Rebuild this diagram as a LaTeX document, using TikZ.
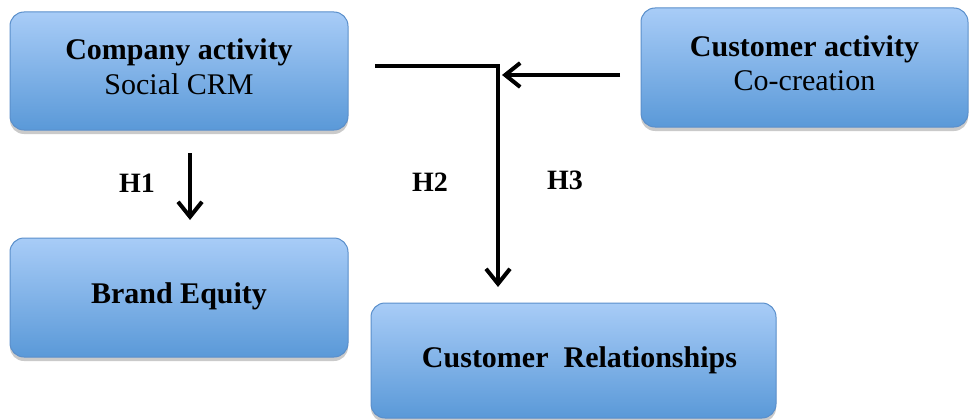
\documentclass[tikz,border=0pt]{standalone}
\usepackage{fontspec}
\setmainfont{Liberation Serif}
\usetikzlibrary{arrows.meta,shadows}
\begin{document}
\begin{tikzpicture}[x=1pt,y=-1pt,
  box/.style={draw=blueborder,line width=1pt,rounded corners=14pt,top color=bluetop,bottom color=bluebot,
    drop shadow={shadow xshift=0pt,shadow yshift=-4pt,opacity=0.35,fill=black!60},
    inner sep=0pt,align=center,font=\fontsize{30}{35}\selectfont},
  conn/.style={line width=4pt,-{Straight Barb[length=15pt,width=24pt,line width=4pt]}},
  lbl/.style={font=\fontsize{28}{30}\selectfont\bfseries}]
\definecolor{bluetop}{HTML}{A8CCF7}
\definecolor{bluebot}{HTML}{5A99D8}
\definecolor{blueborder}{HTML}{5A8FCB}
\useasboundingbox (0,0) rectangle (969,420);
\node[box,minimum width=338pt,minimum height=118pt] (comp) at (179,71) {\raisebox{9pt}{\shortstack{\textbf{Company activity}\\[4pt]Social CRM}}};
\node[box,minimum width=327pt,minimum height=119pt] (cust) at (804.5,67.5) {\raisebox{9pt}{\shortstack{\textbf{Customer activity}\\[4pt]Co-creation}}};
\node[box,minimum width=338pt,minimum height=119pt] (brand) at (179,297.5) {\raisebox{9pt}{\textbf{Brand Equity}}};
\node[box,minimum width=405pt,minimum height=115pt] (rel) at (573.5,360.5) {\hspace*{12pt}\raisebox{2pt}{\textbf{Customer\ \ Relationships}}};
\coordinate (h1s) at (190,153);
\coordinate (h1e) at (190,220);
\coordinate (h2s) at (375,66);
\coordinate (h2c) at (498,66);
\coordinate (h2e) at (498,287);
\coordinate (h3s) at (620,75);
\coordinate (h3e) at (502,75);
\draw[conn] (h1s) -- (h1e);
\draw[conn] (h2s) -- (h2c) -- (h2e);
\draw[conn] (h3s) -- (h3e);
\node[lbl] (l1) at (137,183) {H1};
\node[lbl] (l2) at (430,182) {H2};
\node[lbl] (l3) at (565,180) {H3};
\end{tikzpicture}
\end{document}
